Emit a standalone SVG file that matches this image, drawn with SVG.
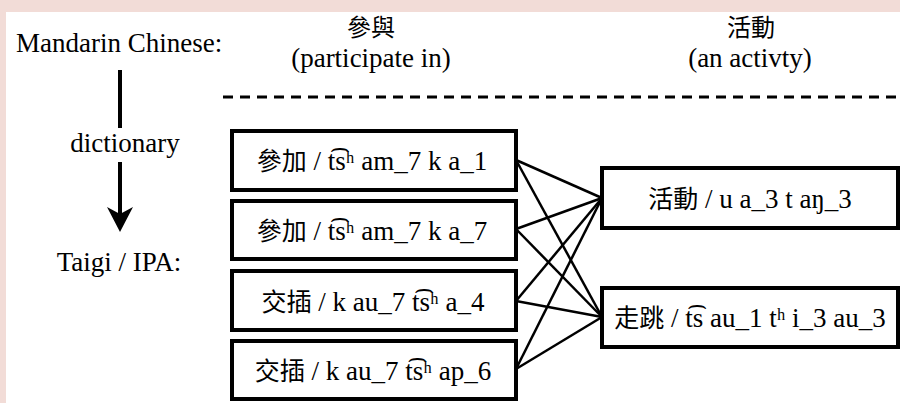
<svg xmlns="http://www.w3.org/2000/svg" width="900" height="403" viewBox="0 0 900 403">
<defs>
<style>
.t{font-family:'Liberation Serif','Times New Roman',Times,serif;font-size:27px;fill:#000;}
.c{text-anchor:middle;}
.cjk{font-family:'Noto Sans CJK TC','Noto Sans CJK SC',sans-serif;font-size:24px;}
.bx{font-size:25px;}
.box{fill:#fff;stroke:#000;stroke-width:4;}
.conn line{stroke:#000;stroke-width:2.5;}
</style>
</defs>
<rect x="0" y="0" width="900" height="403" fill="#f2dcd7"/>
<rect x="6" y="12" width="894" height="391" fill="#fff"/>
<g id="legend">
<text class="t" x="16" y="52">Mandarin Chinese:</text>
<line x1="120" y1="70" x2="120" y2="128" stroke="#000" stroke-width="4"/>
<text class="t c" x="125" y="152">dictionary</text>
<line x1="120" y1="162" x2="120" y2="214" stroke="#000" stroke-width="4"/>
<polygon points="120,232 107,207 120,214 133,207" fill="#000"/>
<text class="t c" x="119" y="271">Taigi / IPA:</text>
</g>
<g id="header">
<text class="t c cjk" x="371" y="36">參與</text>
<text class="t c" x="371" y="67">(participate in)</text>
<text class="t c cjk" x="751" y="36">活動</text>
<text class="t c" x="750" y="67">(an activty)</text>
<line x1="223" y1="97" x2="900" y2="97" stroke="#000" stroke-width="3" stroke-dasharray="10,7"/>
</g>
<g class="conn" id="connectors">
<line x1="516" y1="160" x2="602" y2="198"/>
<line x1="516" y1="160" x2="602" y2="317"/>
<line x1="516" y1="229" x2="602" y2="198"/>
<line x1="516" y1="229" x2="602" y2="317"/>
<line x1="516" y1="301" x2="602" y2="198"/>
<line x1="516" y1="301" x2="602" y2="317"/>
<line x1="516" y1="369" x2="602" y2="198"/>
<line x1="516" y1="369" x2="602" y2="317"/>
</g>
<g id="n1">
<rect class="box" x="232" y="131" width="284" height="59"/>
<text class="t c" x="372" y="170"><tspan class="cjk bx">參加</tspan> / t͡sʰ am_7 k a_1</text>
</g>
<g id="n2">
<rect class="box" x="232" y="201" width="284" height="58"/>
<text class="t c" x="372" y="240"><tspan class="cjk bx">參加</tspan> / t͡sʰ am_7 k a_7</text>
</g>
<g id="n3">
<rect class="box" x="232" y="271" width="284" height="59"/>
<text class="t c" x="373" y="311"><tspan class="cjk bx">交插</tspan> / k au_7 t͡sʰ a_4</text>
</g>
<g id="n4">
<rect class="box" x="232" y="341" width="284" height="58"/>
<text class="t c" x="373" y="380"><tspan class="cjk bx">交插</tspan> / k au_7 t͡sʰ ap_6</text>
</g>
<g id="n5">
<rect class="box" x="602" y="168" width="296" height="60"/>
<text class="t c" x="750" y="208"><tspan class="cjk bx">活動</tspan> / u a_3 t aŋ_3</text>
</g>
<g id="n6">
<rect class="box" x="602" y="288" width="296" height="59"/>
<text class="t c" x="750" y="327"><tspan class="cjk bx">走跳</tspan> / t͡s au_1 tʰ i_3 au_3</text>
</g>
</svg>
